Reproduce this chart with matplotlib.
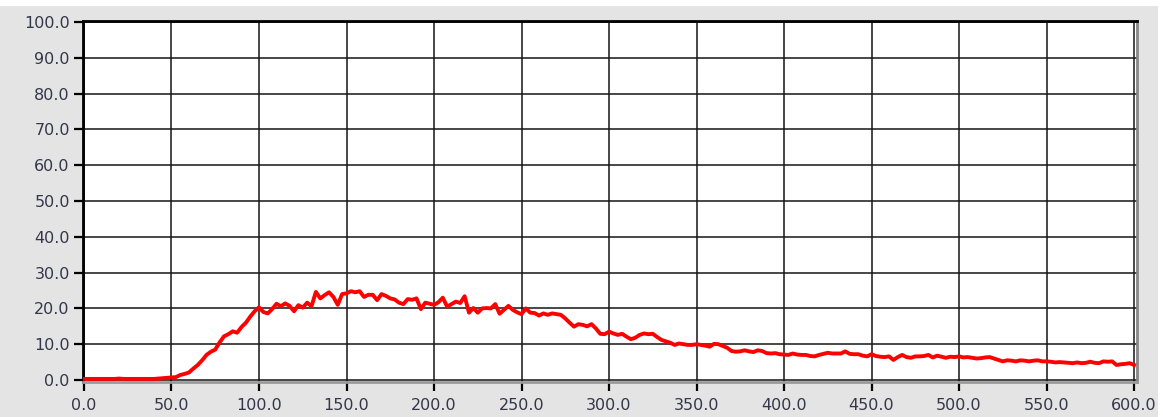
import numpy as np
import matplotlib
matplotlib.use("Agg")
import matplotlib.pyplot as plt
from matplotlib.patches import Rectangle

values = [
    0.3, 0.3, 0.3, 0.3, 0.3, 0.3, 0.3, 0.3, 0.4, 0.3,      # 0 - 22.5
    0.3, 0.3, 0.3, 0.3, 0.3, 0.3, 0.3, 0.4, 0.5, 0.6,      # 25 - 47.5
    0.7, 0.8, 1.4, 1.7, 2.1, 3.2, 4.2, 5.5, 7.0, 7.9,      # 50 - 72.5
    8.5, 10.5, 12.2, 12.8, 13.6, 13.2, 14.8, 16.0, 17.7, 19.2,  # 75 - 97.5
    20.3, 19.0, 18.6, 19.8, 21.3, 20.6, 21.4, 20.7, 19.2, 20.9,  # 100 - 122.5
    20.2, 21.6, 20.6, 24.6, 22.8, 23.7, 24.5, 23.2, 21.0, 24.0,  # 125 - 147.5
    24.2, 24.8, 24.5, 24.8, 23.2, 23.8, 23.8, 22.3, 24.0, 23.5,  # 150 - 172.5
    22.8, 22.5, 21.6, 21.2, 22.6, 22.4, 22.8, 19.8, 21.6, 21.3,  # 175 - 197.5
    21.0, 21.7, 23.0, 20.5, 21.2, 21.9, 21.5, 23.4, 18.8, 20.1,  # 200 - 222.5
    18.8, 20.0, 20.1, 20.0, 21.2, 18.5, 19.6, 20.7, 19.6, 18.9,  # 225 - 247.5
    18.4, 20.0, 18.8, 18.7, 18.0, 18.6, 18.2, 18.6, 18.4, 18.2,  # 250 - 272.5
    17.2, 16.0, 14.9, 15.6, 15.4, 15.0, 15.6, 14.4, 12.9, 12.8,  # 275 - 297.5
    13.5, 13.0, 12.6, 12.9, 12.1, 11.4, 11.8, 12.6, 13.0, 12.8,  # 300 - 322.5
    12.9, 12.0, 11.2, 10.8, 10.4, 9.8, 10.2, 10.0, 9.8, 9.8,     # 325 - 347.5
    10.0, 9.8, 9.6, 9.3, 10.1, 10.0, 9.5, 9.0, 8.1, 7.9,         # 350 - 372.5
    8.0, 8.3, 8.0, 7.8, 8.3, 8.1, 7.5, 7.4, 7.5, 7.2,            # 375 - 397.5
    7.1, 7.0, 7.4, 7.1, 7.0, 7.0, 6.7, 6.6, 7.0, 7.3,            # 400 - 422.5
    7.6, 7.4, 7.4, 7.4, 8.0, 7.3, 7.2, 7.2, 6.8, 6.6,            # 425 - 447.5
    7.2, 6.7, 6.5, 6.4, 6.6, 5.6, 6.4, 7.0, 6.4, 6.2,            # 450 - 472.5
    6.6, 6.6, 6.7, 7.0, 6.3, 6.8, 6.5, 6.2, 6.5, 6.4,            # 475 - 497.5
    6.6, 6.3, 6.4, 6.2, 6.0, 6.1, 6.3, 6.4, 6.0, 5.6,            # 500 - 522.5
    5.2, 5.5, 5.4, 5.2, 5.5, 5.4, 5.2, 5.4, 5.5, 5.2,            # 525 - 547.5
    5.2, 5.1, 4.9, 5.0, 4.9, 4.8, 4.7, 4.9, 4.7, 4.8,            # 550 - 572.5
    5.1, 4.8, 4.7, 5.2, 5.1, 5.2, 4.2, 4.4, 4.5, 4.7,            # 575 - 597.5
    4.2,                                                         # 600
]
t_start, t_end = 0.0, 600.0
times = np.linspace(t_start, t_end, len(values))

x_ticks = [0, 50, 100, 150, 200, 250, 300, 350, 400, 450, 500, 550, 600]
y_ticks = [0, 10, 20, 30, 40, 50, 60, 70, 80, 90, 100]
x_ticklabels = [f"{v:.1f}" for v in x_ticks]
y_ticklabels = [f"{v:.1f}" for v in y_ticks]

# ---- figure ----
W, H = 1163, 417
fig = plt.figure(figsize=(W / 100, H / 100), dpi=100, facecolor="#e4e4e4")
# white margins at top and right edge
fig.patches.append(Rectangle((0, 1 - 6 / H), 1, 6 / H, transform=fig.transFigure,
                             facecolor="white", edgecolor="none", zorder=-1))
fig.patches.append(Rectangle((1158 / W, 0), 1 - 1158 / W, 1, transform=fig.transFigure,
                             facecolor="white", edgecolor="none", zorder=-1))

left, right = 83 / W, 1137 / W
top, bottom = 1 - 21 / H, 1 - 382 / H
ax = fig.add_axes([left, bottom, right - left, top - bottom])
ax.set_facecolor("white")

ax.plot(times, values, color="#ff0000", lw=2.8, solid_joinstyle="round", zorder=3)

ax.set_xlim(-0.57, 601.7)
ax.set_ylim(-0.56, 100.28)

ax.set_xticks(x_ticks)
ax.set_xticklabels(x_ticklabels)
ax.set_yticks(y_ticks)
ax.set_yticklabels(y_ticklabels)

ax.grid(True, color="#151515", lw=1.1, zorder=1)
ax.set_axisbelow(True)

label_color = "#34364a"
ax.tick_params(axis="both", direction="out", length=6.5, width=1.6, color="black",
               labelsize=11.5, labelcolor=label_color)
ax.tick_params(axis="y", pad=3)
ax.tick_params(axis="x", pad=5)

for side, col in (("top", "black"), ("left", "black"), ("right", "#888888"), ("bottom", "#9a9a9a")):
    ax.spines[side].set_color(col)
    ax.spines[side].set_linewidth(2.0)

fig.savefig("out.png", dpi=100, facecolor=fig.get_facecolor())
